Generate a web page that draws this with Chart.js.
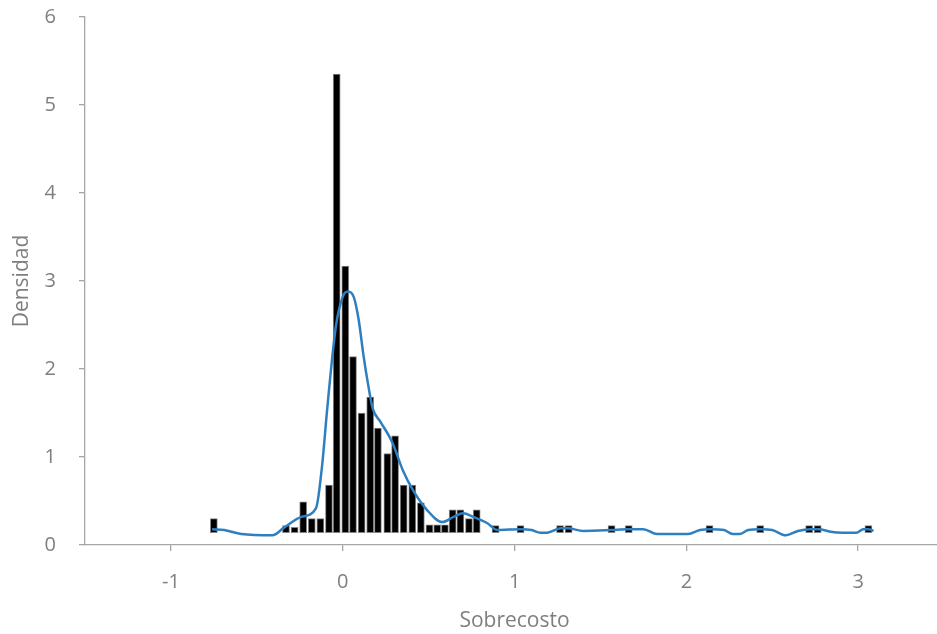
<!DOCTYPE html>
<html lang="es">
<head>
    <meta charset="UTF-8">
    <title>Densidad del sobrecosto</title>
    <script src="https://cdn.jsdelivr.net/npm/chart.js"></script>
    <style>
        html, body { margin: 0; padding: 0; background: #fff; overflow: hidden; }
        #wrap { width: 946px; height: 634px; }
    </style>
</head>
<body>
    <div id="wrap"><canvas id="densityChart"></canvas></div>
    <script>
        // histograma (centro de cada barra y altura)
        const binCenters = [-0.75,
            -0.33, -0.28, -0.23, -0.18, -0.13, -0.08, -0.035, 0.015, 0.06, 0.11, 0.16, 0.205,
            0.26, 0.305, 0.355, 0.405, 0.455, 0.505, 0.55, 0.595, 0.64, 0.685, 0.735, 0.78,
            0.89, 1.035, 1.265, 1.315, 1.565, 1.665, 2.135, 2.43, 2.715, 2.765, 3.06];
        const binDensity = [0.3,
            0.22, 0.2, 0.49, 0.3, 0.3, 0.68, 5.35, 3.17, 2.14, 1.5, 1.68, 1.33,
            1.04, 1.24, 0.68, 0.68, 0.48, 0.23, 0.23, 0.23, 0.4, 0.4, 0.3, 0.4,
            0.22, 0.22, 0.22, 0.22, 0.22, 0.22, 0.22, 0.22, 0.22, 0.22, 0.22];
        const barBase = 0.14;

        // curva de densidad (kernel)
        const kdeX = [-0.76, -0.69, -0.59, -0.41, -0.34, -0.24, -0.155, -0.12, -0.09, -0.04, 0.0, 0.03,
            0.064, 0.093, 0.122, 0.15, 0.175, 0.22, 0.29, 0.35, 0.41, 0.49, 0.58, 0.645, 0.70, 0.76,
            0.84, 0.9, 1.035, 1.10, 1.15, 1.19, 1.27, 1.31, 1.40, 1.56, 1.66, 1.75, 1.83, 2.01, 2.08,
            2.14, 2.22, 2.27, 2.31, 2.36, 2.43, 2.5, 2.58, 2.65, 2.72, 2.77, 2.84, 2.91, 2.99, 3.03,
            3.06, 3.09];
        const kdeY = [0.18, 0.17, 0.125, 0.11, 0.2, 0.32, 0.42, 0.9, 1.55, 2.48, 2.82, 2.88,
            2.82, 2.56, 2.14, 1.8, 1.55, 1.4, 1.16, 0.85, 0.62, 0.4, 0.26, 0.32, 0.36, 0.32,
            0.25, 0.17, 0.18, 0.17, 0.14, 0.14, 0.19, 0.19, 0.16, 0.17, 0.18, 0.18, 0.125, 0.125, 0.17,
            0.18, 0.17, 0.125, 0.125, 0.17, 0.18, 0.17, 0.11, 0.16, 0.18, 0.18, 0.15, 0.14, 0.14, 0.18,
            0.18, 0.16];

        const xTickMarks = [-1.5, -0.5, 0.5, 1.5, 2.5];
        const xTickLabels = ['-1', '0', '1', '2', '3'];
        const yTickLabels = ['0', '1', '2', '3', '4', '5', '6'];

        const gray = '#7f7f7f';
        const lineGray = '#a6a6a6';
        const tickFont = { family: 'Open Sans', size: 20 };
        const titleFont = { family: 'Open Sans', size: 21 };

        const ctx = document.getElementById('densityChart').getContext('2d');
        new Chart(ctx, {
            type: 'bar',
            data: {
                datasets: [{
                    type: 'line',
                    data: kdeX.map((x, i) => ({ x: x, y: kdeY[i] })),
                    borderColor: '#2e7fc0',
                    borderWidth: 2.5,
                    pointRadius: 0,
                    cubicInterpolationMode: 'monotone',
                    order: 0
                }, {
                    type: 'bar',
                    data: binCenters.map((x, i) => ({ x: x, y: [barBase, binDensity[i]] })),
                    backgroundColor: '#000',
                    borderColor: 'rgba(120,120,120,0.9)',
                    borderWidth: 1,
                    borderSkipped: false,
                    barThickness: 7,
                    order: 1
                }]
            },
            options: {
                responsive: true,
                maintainAspectRatio: false,
                animation: false,
                layout: { padding: { top: 17, right: 2, left: 5, bottom: 0 } },
                plugins: {
                    legend: { display: false },
                    tooltip: { enabled: false }
                },
                scales: {
                    x: {
                        type: 'linear',
                        offset: false,
                        min: -1.5,
                        max: 3.5,
                        afterBuildTicks: (scale) => {
                            scale.ticks = xTickMarks.map(v => ({ value: v }));
                        },
                        afterFit: (scale) => { scale.height = 89; },
                        grid: {
                            drawOnChartArea: false,
                            color: lineGray,
                            tickLength: 6,
                            lineWidth: 1.3
                        },
                        border: { color: lineGray, width: 1.3 },
                        ticks: {
                            color: gray,
                            font: tickFont,
                            padding: 19,
                            maxRotation: 0,
                            autoSkip: false,
                            labelOffset: 86,
                            callback: (v, i) => xTickLabels[i]
                        },
                        title: {
                            display: true,
                            text: 'Sobrecosto',
                            color: gray,
                            font: titleFont,
                            padding: { top: 0, bottom: 0 }
                        }
                    },
                    y: {
                        min: 0,
                        max: 6,
                        afterFit: (scale) => {
                            scale.width = 80;
                            scale.paddingTop = 0;
                            scale.paddingBottom = 0;
                        },
                        grid: {
                            drawOnChartArea: false,
                            color: lineGray,
                            tickLength: 6,
                            lineWidth: 1.3
                        },
                        border: { color: lineGray, width: 1.3 },
                        ticks: {
                            stepSize: 1,
                            color: gray,
                            font: tickFont,
                            padding: 23,
                            callback: (v) => yTickLabels[v]
                        },
                        title: {
                            display: true,
                            text: 'Densidad',
                            color: gray,
                            font: titleFont,
                            padding: { top: 4, bottom: 0 }
                        }
                    }
                }
            }
        });
    </script>
</body>
</html>
